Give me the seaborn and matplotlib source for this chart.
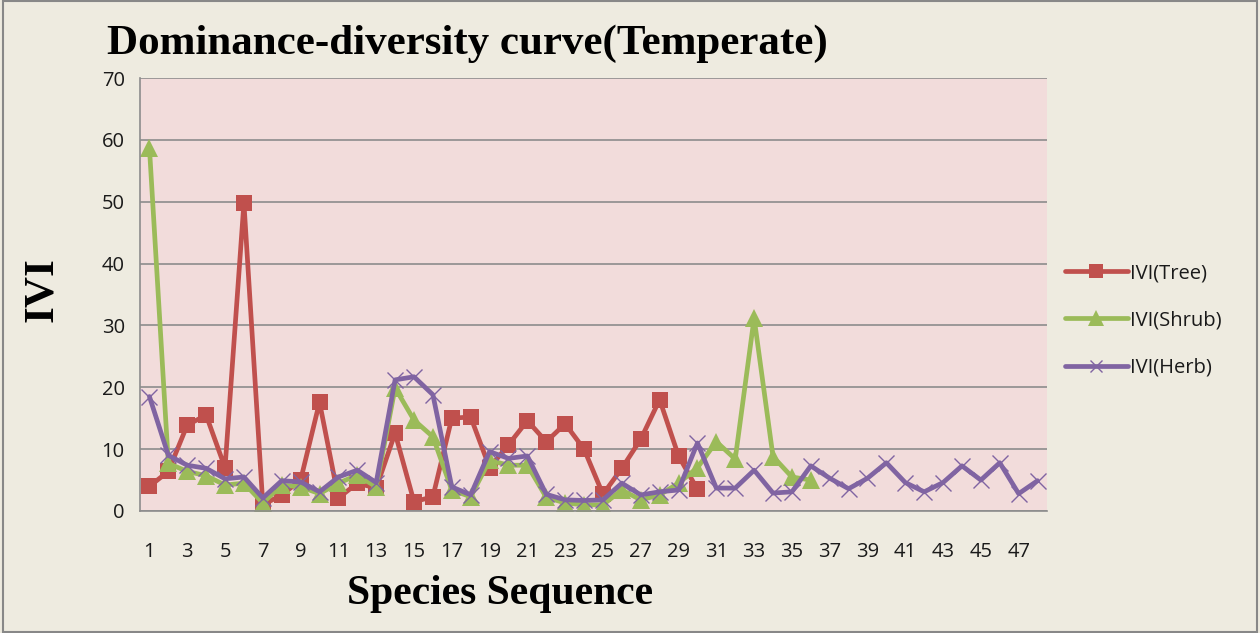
import matplotlib
matplotlib.use("Agg")
import matplotlib.pyplot as plt
import seaborn as sns
import pandas as pd
import numpy as np
from matplotlib.patches import Rectangle

tree = [4, 6.4, 13.9, 15.5, 7, 49.8, 1, 2.6, 5, 17.6, 2.1, 4.5, 3.7, 12.6, 1.5, 2.3,
        15, 15.2, 7, 10.7, 14.6, 11.2, 14.1, 10, 2.7, 6.9, 11.6, 18, 8.9, 3.5]
shrub = [58.7, 7.7, 6.4, 5.7, 4.2, 4.5, 1.3, 4.2, 3.9, 2.8, 4.5, 5.8, 3.9, 19.9, 14.7, 12,
         3.4, 2.3, 8.2, 7.4, 7.4, 2.2, 1.3, 1, 1, 3.4, 1.8, 2.6, 4.5, 7, 11.2, 8.4,
         31.2, 8.8, 5.5, 5]
herb = [18.5, 9, 7.4, 6.9, 5.2, 5.5, 2.1, 4.9, 4.7, 3.1, 5.5, 6.6, 4.6, 21.2, 21.7, 18.8,
        3.9, 2.6, 9.6, 8.5, 8.9, 2.7, 1.8, 1.7, 1.8, 4.5, 2.6, 3.1, 3.4, 11, 3.7, 3.7,
        6.6, 2.9, 3.1, 7.3, 5.3, 3.6, 5.3, 7.8, 4.6, 3.1, 4.6, 7.3, 5, 7.8, 2.8, 4.9]
series_names = ["IVI(Tree)", "IVI(Shrub)", "IVI(Herb)"]
y_ticks = [0, 10, 20, 30, 40, 50, 60, 70]
n_cat = 48

frames = []
for name, vals in zip(series_names, [tree, shrub, herb]):
    frames.append(pd.DataFrame({"seq": np.arange(1, len(vals) + 1), "IVI": vals, "series": name}))
df = pd.concat(frames, ignore_index=True)

sns.set_style("white")
plt.rcParams["font.family"] = ["Open Sans", "DejaVu Sans"]

bg = "#EEEBE0"
fig = plt.figure(figsize=(12.6, 6.33), dpi=100, facecolor=bg)
ax = fig.add_axes([140/1260, 1-511/633, 907/1260, 433/633])
ax.set_facecolor("#F2DCDB")

colors = {"IVI(Tree)": "#C0504D", "IVI(Shrub)": "#9BBB59", "IVI(Herb)": "#8064A2"}
styles = {
    "IVI(Tree)": dict(marker="s", markersize=12, markeredgewidth=0),
    "IVI(Shrub)": dict(marker="^", markersize=13, markeredgewidth=0),
    "IVI(Herb)": dict(marker="x", markersize=11, markeredgewidth=1.0),
}
for name in series_names:
    sub = df[df["series"] == name]
    sns.lineplot(data=sub, x="seq", y="IVI", ax=ax, color=colors[name], linewidth=3.4,
                 label=name, markeredgecolor=colors[name], **styles[name])

ax.set_xlim(0.5, n_cat + 0.5)
ax.set_ylim(0, 70)
ax.set_yticks(y_ticks)
ax.yaxis.grid(True, color="#8C8C8C", linewidth=1.2)
ax.set_axisbelow(True)
ax.set_xticks(np.arange(1, n_cat + 1, 2))
ax.set_xticklabels([str(i) for i in range(1, n_cat + 1, 2)])
ax.set_xticks(np.arange(0.5, n_cat + 1, 1), minor=True)
ax.tick_params(axis="x", which="major", length=0, pad=22, labelsize=14.5, colors="#1a1a1a")
ax.tick_params(axis="x", which="minor", length=7, width=1, color="#8C8C8C", direction="out")
ax.tick_params(axis="y", which="major", length=5, width=1, color="#8C8C8C", labelsize=14.5,
               colors="#1a1a1a", pad=6)
for s in ["top", "right"]:
    ax.spines[s].set_visible(False)
for s in ["left", "bottom"]:
    ax.spines[s].set_color("#8C8C8C")
    ax.spines[s].set_linewidth(1.2)
ax.set_xlabel("")
ax.set_ylabel("")

leg = ax.legend(loc="center left", bbox_to_anchor=(1.0, 0.44), frameon=False, fontsize=14.5,
                handlelength=3.1, labelspacing=1.35, handletextpad=0.12, markerscale=0.85)
for t in leg.get_texts():
    t.set_color("#1a1a1a")

fig.text(107/1260, 1-44/633, "Dominance-diversity curve(Temperate)", family="Liberation Serif",
         fontweight="bold", fontsize=31, va="center", ha="left", color="black")
fig.text(500/1260, 1-594/633, "Species Sequence", family="Liberation Serif",
         fontweight="bold", fontsize=30, va="center", ha="center", color="black")
fig.text(42/1260, 1-290/633, "IVI", family="Liberation Serif", fontweight="bold",
         fontsize=31, va="center", ha="center", rotation=90, color="black")

fig.patches.append(Rectangle((0.002, 0.002), 0.996, 0.996, transform=fig.transFigure,
                             fill=False, edgecolor="#888888", linewidth=1.5))

fig.savefig("out.png", dpi=100, facecolor=bg)
